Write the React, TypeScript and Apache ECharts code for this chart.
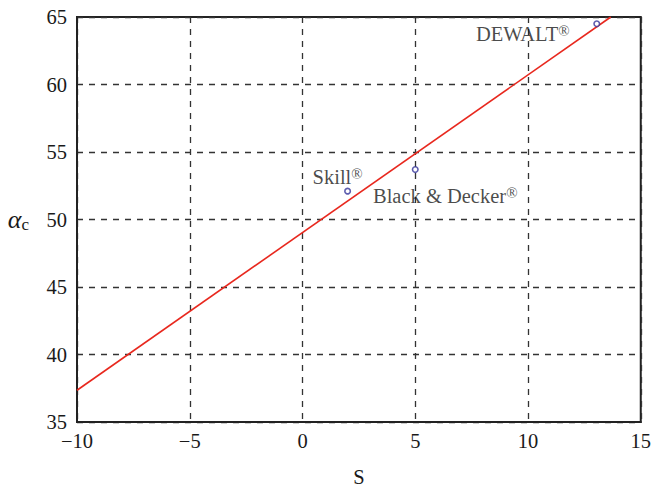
import React, { useEffect, useRef } from "react";
import * as echarts from "echarts";

const brands = ["Skill", "Black & Decker", "DEWALT"];
const sValues = [2, 5, 13.05];
const alphaValues = [52.1, 53.7, 64.5];
const labelOffsets: [number, number][] = [[-10, -14], [30, 26], [-74, 10]];
const fitLineX = [-10, 13.67];
const fitLineY = [37.35, 65];

const FONT = "Liberation Serif, Times New Roman, serif";
const FS = 20.5;

export default function App() {
  const ref = useRef<HTMLDivElement>(null);
  useEffect(() => {
    if (!ref.current) return;
    const chart = echarts.init(ref.current, null, { renderer: "svg" });
    const rich = {
      n: { fontFamily: FONT, fontSize: FS, color: "#1a1a1a" },
      s: { fontFamily: FONT, fontSize: 15, color: "#1a1a1a", verticalAlign: "top" as const },
    };
    chart.setOption({
      animation: false,
      grid: { left: 77, top: 17, width: 564, height: 410, show: true, borderColor: "#222", borderWidth: 2, backgroundColor: "transparent" },
      xAxis: {
        type: "value",
        min: -10,
        max: 15,
        interval: 5,
        name: "S",
        nameLocation: "middle",
        nameGap: 44,
        nameTextStyle: { fontFamily: FONT, fontSize: FS, color: "#1a1a1a" },
        axisLine: { show: true, onZero: false, lineStyle: { color: "#222", width: 2 } },
        axisTick: { show: false },
        axisLabel: {
          fontFamily: FONT, fontSize: FS, color: "#1a1a1a", margin: 8,
          formatter: (v: number) => String(v).replace("-", "\u2212"),
        },
        splitLine: { show: true, lineStyle: { color: "#333", width: 1.3, type: [6, 6] } },
      },
      yAxis: {
        type: "value",
        min: 35,
        max: 65,
        interval: 5,
        name: "{a|\u03b1}{c|c}",
        nameLocation: "middle",
        nameRotate: 0,
        nameGap: 48,
        nameTextStyle: {
          rich: {
            a: { fontFamily: FONT, fontSize: 26, fontStyle: "italic", color: "#1a1a1a" },
            c: { fontFamily: FONT, fontSize: 17, color: "#1a1a1a", verticalAlign: "bottom" },
          },
        },
        axisLine: { show: true, onZero: false, lineStyle: { color: "#222", width: 2 } },
        axisTick: { show: false },
        axisLabel: { fontFamily: FONT, fontSize: FS, color: "#1a1a1a", margin: 10 },
        splitLine: { show: true, lineStyle: { color: "#333", width: 1.3, type: [6, 6] } },
      },
      series: [
        {
          type: "line",
          data: fitLineX.map((x, i) => [x, fitLineY[i]]),
          showSymbol: false,
          symbol: "none",
          lineStyle: { color: "#e8281e", width: 1.6 },
          clip: true,
          z: 2,
        },
        {
          type: "scatter",
          symbol: "circle",
          symbolSize: 5.5,
          itemStyle: { color: "#ffffff", borderColor: "#34349a", borderWidth: 1.6 },
          data: brands.map((b, i) => ({
            value: [sValues[i], alphaValues[i]],
            label: {
              show: true,
              position: "inside",
              offset: labelOffsets[i],
              align: "center",
              verticalAlign: "middle",
              formatter: `{n|${b}}{s|\u00ae}`,
              rich,
            },
          })),
          z: 3,
        },
      ],
    });
    return () => chart.dispose();
  }, []);
  return <div ref={ref} style={{ width: 654, height: 492, position: "absolute", left: 0, top: 0 }} />;
}
